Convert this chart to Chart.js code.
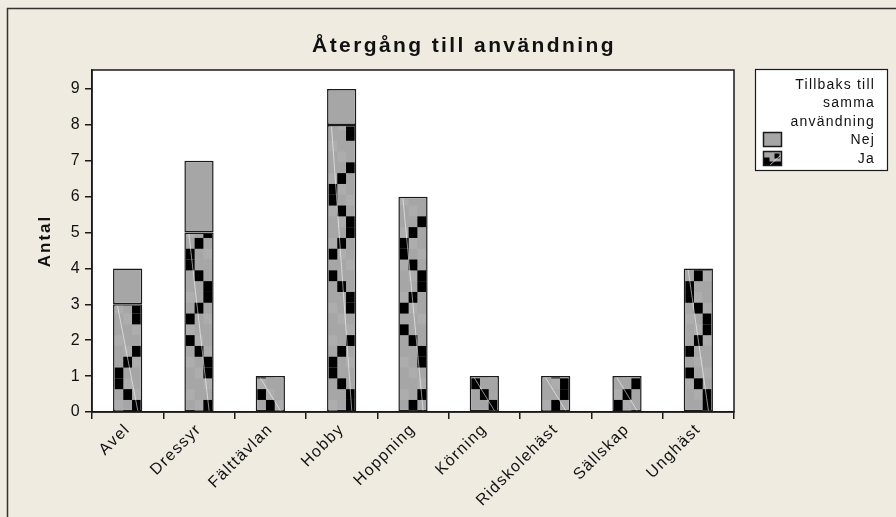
<!DOCTYPE html>
<html>
<head>
<meta charset="utf-8">
<script src="https://cdn.jsdelivr.net/npm/chart.js@4.4.1/dist/chart.umd.min.js"></script>
<style>
  html, body { margin: 0; padding: 0; background: #EFEBE1; }
  #wrap { position: relative; width: 896px; height: 517px; }
  canvas { display: block; }
</style>
</head>
<body>
<div id="wrap"><canvas id="c" width="896" height="517"></canvas></div>
<script>
// Categories: previous use of the horse
const categories = ['Avel', 'Dressyr', 'Fälttävlan', 'Hobby', 'Hoppning', 'Körning', 'Ridskolehäst', 'Sällskap', 'Unghäst'];
// Back to the same use: Ja (yes) and Nej (no) counts
const jaValues  = [3, 5, 1, 8, 6, 1, 1, 1, 4];
const nejValues = [1, 2, 0, 1, 0, 0, 0, 0, 0];
const yTicks = [0, 1, 2, 3, 4, 5, 6, 7, 8, 9];

const titleText = 'Återgång till användning';
const yTitle = 'Antal';
const legendTitle = ['Tillbaks till', 'samma', 'användning'];

const FONT = '"Liberation Sans", Arial, sans-serif';
const GRAY = '#A6A6A6';
const INK = '#1a1a1a';
const TICK_SPACING = '1.4px';

// zigzag of black cells used as the fill texture for the "Ja" segments
const zig = [2, 1, 0, 0, 1, 2, -1, -1, 2, 2, 1, 0, -1, 0, 1, 2];

// letter spacing for the axis tick labels drawn by the library
const spacingPlugin = {
  id: 'spacing',
  beforeLayout(chart) { chart.ctx.letterSpacing = TICK_SPACING; },
  beforeDraw(chart) { chart.ctx.letterSpacing = TICK_SPACING; }
};

const framePlugin = {
  id: 'frame',
  beforeDraw(chart) {
    const { ctx, chartArea: a } = chart;
    ctx.save();
    ctx.fillStyle = '#ffffff';
    ctx.fillRect(a.left, a.top, a.right - a.left, a.bottom - a.top);
    // outer frame (top and left edges)
    ctx.strokeStyle = '#333';
    ctx.lineWidth = 1.5;
    ctx.beginPath();
    ctx.moveTo(7.5, chart.height);
    ctx.lineTo(7.5, 8.5);
    ctx.lineTo(chart.width, 8.5);
    ctx.stroke();
    ctx.restore();
  },
  afterDraw(chart) {
    const { ctx, chartArea: a } = chart;
    ctx.save();
    // plot area border
    ctx.strokeStyle = INK;
    ctx.lineWidth = 1.5;
    ctx.strokeRect(a.left, a.top, a.right - a.left, a.bottom - a.top);

    // title
    ctx.fillStyle = '#111';
    ctx.font = 'bold 21px ' + FONT;
    ctx.letterSpacing = '2.4px';
    ctx.textAlign = 'center';
    ctx.textBaseline = 'middle';
    ctx.fillText(titleText, 464, 46);

    // y axis title
    ctx.save();
    ctx.translate(45, 241);
    ctx.rotate(-Math.PI / 2);
    ctx.font = 'bold 17px ' + FONT;
    ctx.letterSpacing = '2px';
    ctx.fillText(yTitle, 0, 0);
    ctx.restore();

    // legend box
    const bx = 755.5, by = 69.5, bw = 132, bh = 101;
    ctx.fillStyle = '#ffffff';
    ctx.fillRect(bx, by, bw, bh);
    ctx.strokeStyle = INK;
    ctx.lineWidth = 1.2;
    ctx.strokeRect(bx, by, bw, bh);
    ctx.fillStyle = '#111';
    ctx.font = '14px ' + FONT;
    ctx.letterSpacing = '1.2px';
    ctx.textAlign = 'right';
    const tx = 875;
    legendTitle.forEach((t, i) => ctx.fillText(t, tx, 85 + i * 18.5));
    // entries in reverse stacking order: Nej above Ja
    const ds = chart.data.datasets;
    const entries = [ds[1], ds[0]];
    entries.forEach((d, i) => {
      const sx = 763.5, sy = 132.5 + i * 19, sw = 18, sh = 14;
      ctx.fillStyle = GRAY;
      ctx.fillRect(sx, sy, sw, sh);
      if (d.label === 'Ja') {
        ctx.fillStyle = '#000';
        ctx.fillRect(sx, sy + 6, 6, sh - 6);
        ctx.fillRect(sx, sy + 10, sw, 4);
        ctx.fillRect(sx + 11, sy + 2, 5, 5);
        ctx.strokeStyle = 'rgba(255,255,255,0.7)';
        ctx.lineWidth = 1;
        ctx.beginPath();
        ctx.moveTo(sx + 6, sy + sh);
        ctx.lineTo(sx + sw, sy + 3);
        ctx.stroke();
      }
      ctx.strokeStyle = INK;
      ctx.lineWidth = 1.5;
      ctx.strokeRect(sx, sy, sw, sh);
      ctx.fillStyle = '#111';
      ctx.fillText(d.label, tx, sy + 8);
    });
    ctx.restore();
  }
};

// checkered texture drawn inside each "Ja" bar
const texturePlugin = {
  id: 'texture',
  afterDatasetDraw(chart, args) {
    if (args.index !== 0) return;
    const { ctx } = chart;
    const meta = args.meta;
    meta.data.forEach((el, i) => {
      const p = el.getProps(['x', 'y', 'base', 'width'], true);
      const left = p.x - p.width / 2 + 1.5;
      const right = p.x + p.width / 2 - 1.5;
      const top = Math.min(p.y, p.base) + 1.5;
      const bottom = Math.max(p.y, p.base) - 0.5;
      if (bottom - top < 2) return;
      const cw = (right - left) / 3;
      const ch = 10.8;
      ctx.save();
      ctx.beginPath();
      ctx.rect(left, top, right - left, bottom - top);
      ctx.clip();
      // slightly lighter cells for a mottled grey
      ctx.fillStyle = '#ADADAD';
      const rows = Math.ceil((bottom - top) / ch) + 1;
      for (let r = 0; r < rows; r++) {
        const col = (r * 2 + i) % 3;
        ctx.fillRect(left + col * cw, bottom - (r + 1) * ch, cw, ch);
      }
      ctx.fillStyle = '#000';
      for (let r = 0; r < rows; r++) {
        const col = zig[(r + i * 5) % zig.length];
        if (col < 0) continue;
        const yb = bottom - r * ch;
        ctx.fillRect(left + col * cw, yb - ch, cw, ch);
      }
      ctx.strokeStyle = 'rgba(255,255,255,0.55)';
      ctx.lineWidth = 1;
      ctx.beginPath();
      ctx.moveTo(left + 3, top);
      ctx.lineTo(right - 3, bottom);
      ctx.stroke();
      ctx.restore();
    });
  }
};

new Chart(document.getElementById('c'), {
  type: 'bar',
  data: {
    labels: categories,
    datasets: [
      {
        label: 'Ja',
        data: jaValues,
        backgroundColor: GRAY,
        borderColor: INK,
        borderWidth: 1.5,
        borderSkipped: false,
        barPercentage: 0.41,
        categoryPercentage: 1
      },
      {
        label: 'Nej',
        data: nejValues,
        backgroundColor: GRAY,
        borderColor: INK,
        borderWidth: 1.5,
        borderSkipped: false,
        barPercentage: 0.41,
        categoryPercentage: 1
      }
    ]
  },
  options: {
    responsive: false,
    animation: false,
    layout: { padding: { left: 0, top: 70, right: 162, bottom: 0 } },
    plugins: {
      legend: { display: false },
      title: { display: false },
      tooltip: { enabled: false }
    },
    scales: {
      x: {
        stacked: true,
        grid: { display: true, drawOnChartArea: false, color: INK, tickLength: 7, lineWidth: 1.5 },
        border: { display: true, color: INK, width: 1.5 },
        ticks: {
          color: '#111',
          font: { family: FONT, size: 16 },
          minRotation: 45,
          maxRotation: 45,
          padding: 1,
          autoSkip: false
        },
        afterFit(scale) { scale.height = 105; }
      },
      y: {
        stacked: true,
        min: 0,
        max: 9.53,
        grid: { display: true, drawOnChartArea: false, color: INK, tickLength: 7, lineWidth: 1.5 },
        border: { display: true, color: INK, width: 1.5 },
        ticks: {
          color: '#111',
          font: { family: FONT, size: 16 },
          padding: 4
        },
        afterBuildTicks(scale) { scale.ticks = yTicks.map(v => ({ value: v })); },
        afterFit(scale) { scale.width = 92; }
      }
    }
  },
  plugins: [spacingPlugin, framePlugin, texturePlugin]
});
</script>
</body>
</html>
